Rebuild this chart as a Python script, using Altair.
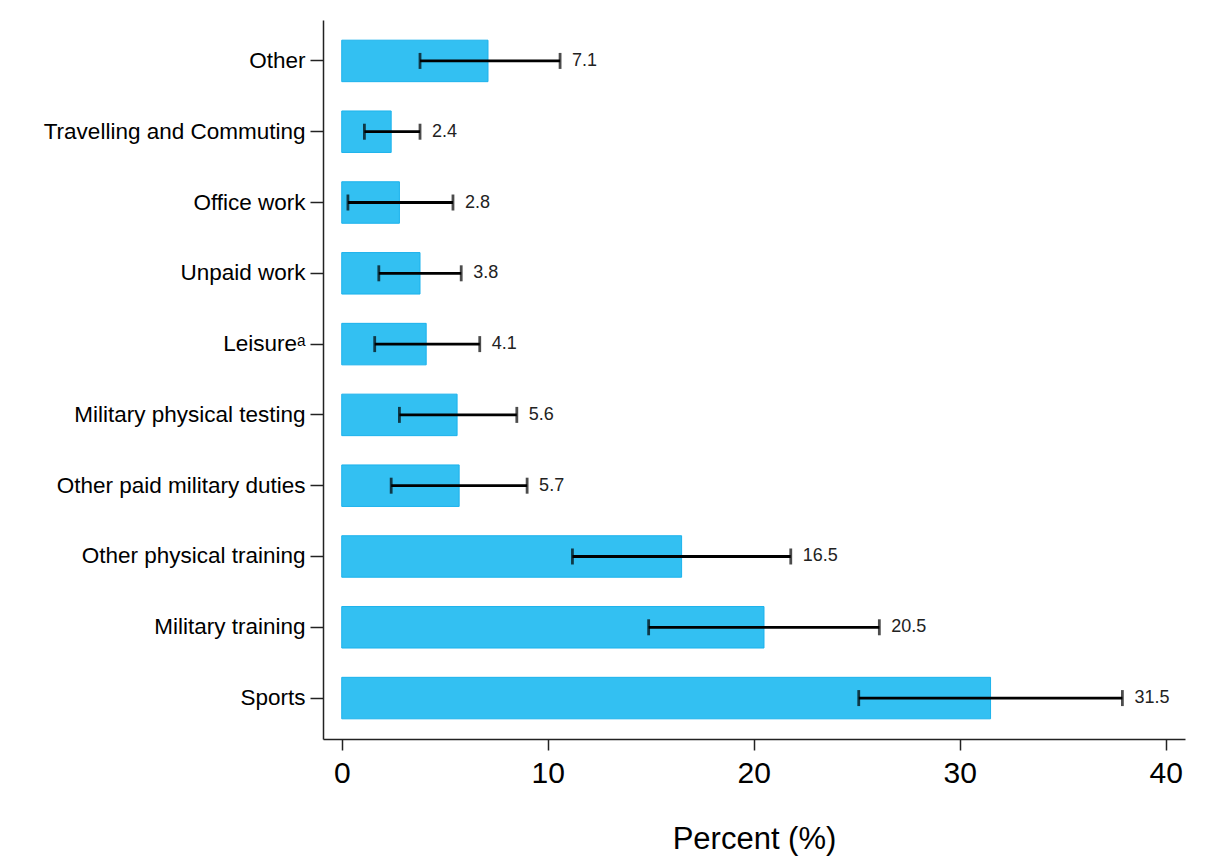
import altair as alt
import pandas as pd

# Activity categories, listed top to bottom
activities = [
    "Other",
    "Travelling and Commuting",
    "Office work",
    "Unpaid work",
    "Leisure\u1d43",
    "Military physical testing",
    "Other paid military duties",
    "Other physical training",
    "Military training",
    "Sports",
]
percent = [7.1, 2.4, 2.8, 3.8, 4.1, 5.6, 5.7, 16.5, 20.5, 31.5]
ci_low = [3.8, 1.1, 0.3, 1.8, 1.6, 2.8, 2.4, 11.2, 14.9, 25.1]
ci_high = [10.6, 3.8, 5.4, 5.8, 6.7, 8.5, 9.0, 21.8, 26.1, 37.9]

df = pd.DataFrame({
    "activity": activities,
    "percent": percent,
    "lo": ci_low,
    "hi": ci_high,
})
df["label"] = df["percent"].map(lambda v: f"{v:.1f}")

FONT = "Liberation Sans"

y_enc = alt.Y(
    "activity:N",
    sort=activities,
    title=None,
    scale=alt.Scale(paddingInner=0.414, paddingOuter=0.285),
    axis=alt.Axis(
        labelFontSize=22.5,
        labelFont=FONT,
        labelColor="#000000",
        labelPadding=5,
        tickSize=13,
        tickColor="#222222",
        tickWidth=1.5,
        domainColor="#222222",
        domainWidth=1.5,
        labelLimit=400,
    ),
)

x_scale = alt.Scale(domain=[-0.91, 40.94], nice=False, zero=False)
x_axis = alt.Axis(
    values=[0, 10, 20, 30, 40],
    labelFontSize=30,
    labelFont=FONT,
    labelColor="#000000",
    labelPadding=8,
    tickSize=11,
    tickColor="#222222",
    tickWidth=1.5,
    domainColor="#222222",
    domainWidth=1.5,
    titleFontSize=31,
    titleFont=FONT,
    titleFontWeight="normal",
    titleColor="#000000",
    titlePadding=36,
    grid=False,
)

base = alt.Chart(df)

bars = base.mark_bar(
    color="#33c0f2", stroke="#1cb2ec", strokeWidth=1
).encode(
    x=alt.X("percent:Q", scale=x_scale, axis=x_axis, title="Percent (%)"),
    x2=alt.datum(0),
    y=y_enc,
)

whisker = base.mark_rule(color="#000000", strokeWidth=2.8).encode(
    x=alt.X("lo:Q", scale=x_scale),
    x2="hi:Q",
    y=alt.Y("activity:N", sort=activities),
)

cap_lo = base.mark_tick(color="#000000", thickness=2.8, size=16).encode(
    x=alt.X("lo:Q", scale=x_scale),
    y=alt.Y("activity:N", sort=activities),
)

cap_hi = base.mark_tick(color="#000000", thickness=2.8, size=16).encode(
    x=alt.X("hi:Q", scale=x_scale),
    y=alt.Y("activity:N", sort=activities),
)

labels = base.mark_text(
    align="left", baseline="middle", dx=12, fontSize=18, font=FONT, color="#222222"
).encode(
    x=alt.X("hi:Q", scale=x_scale),
    y=alt.Y("activity:N", sort=activities),
    text="label:N",
)

chart = (
    alt.layer(bars, whisker, cap_lo, cap_hi, labels)
    .properties(
        width=862,
        height=719,
        autosize=alt.AutoSizeParams(type="none"),
        padding={"left": 323, "top": 20, "right": 22, "bottom": 120},
        background="#ffffff",
    )
    .configure_view(stroke=None)
)

chart.save("out.html", embed_options={"renderer": "svg", "actions": False})
